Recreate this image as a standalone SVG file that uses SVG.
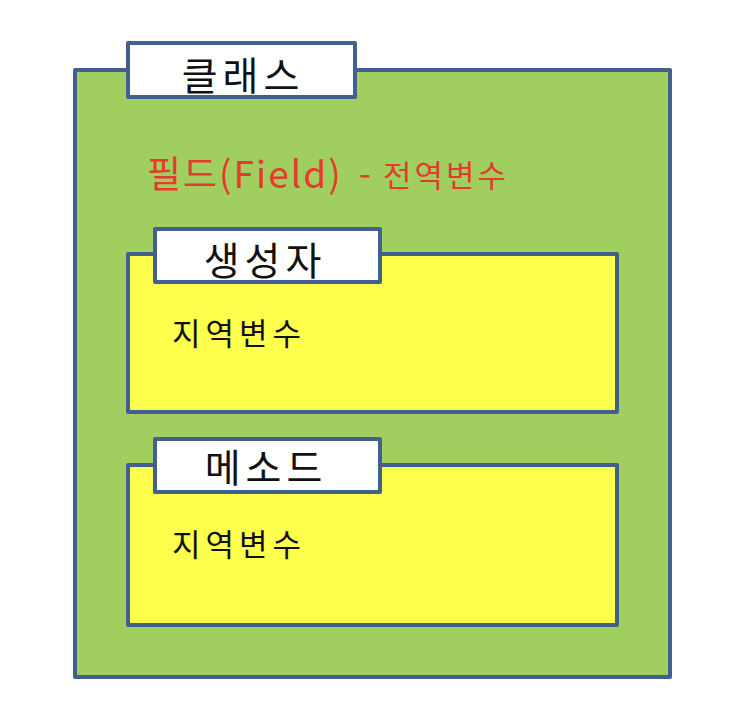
<svg xmlns="http://www.w3.org/2000/svg" width="750" height="720" viewBox="0 0 750 720">
<style>
.box{stroke:#41608f;stroke-width:4;stroke-linejoin:round}
.outer{fill:#a0cf60}
.inner{fill:#ffff4d}
.tab{fill:#ffffff}
.k{font-family:"Noto Sans CJK KR","Noto Sans",sans-serif;fill:#111111}
.t{font-size:39px;letter-spacing:5px;text-anchor:middle}
.v{font-size:31px;letter-spacing:5px}
.red{font-family:"Noto Sans CJK KR","Noto Sans",sans-serif;fill:#e53a2e}
</style>
<rect width="750" height="720" fill="#ffffff"/>
<g id="class">
<rect class="box outer" x="75" y="70" width="595" height="607"/>
<rect class="box tab" x="128" y="43" width="227" height="54"/>
<text class="k t" x="243" y="90" font-size="40">클래스</text>
<text class="red" x="147" y="188" font-size="37" letter-spacing="2">필드(Field)</text>
<text class="red" x="359" y="186" font-size="34">-</text>
<text class="red" x="383" y="187" font-size="31" letter-spacing="3">전역변수</text>
</g>
<g id="constructor">
<rect class="box inner" x="128" y="254" width="489" height="158"/>
<rect class="box tab" x="155" y="229" width="225" height="53"/>
<text class="k t" x="265" y="275">생성자</text>
<text class="k v" x="172" y="345">지역변수</text>
</g>
<g id="method">
<rect class="box inner" x="128" y="465" width="489" height="160"/>
<rect class="box tab" x="155" y="439" width="225" height="53"/>
<text class="k t" x="266" y="482">메소드</text>
<text class="k v" x="172" y="556">지역변수</text>
</g>
<g id="connectors"></g>
</svg>
